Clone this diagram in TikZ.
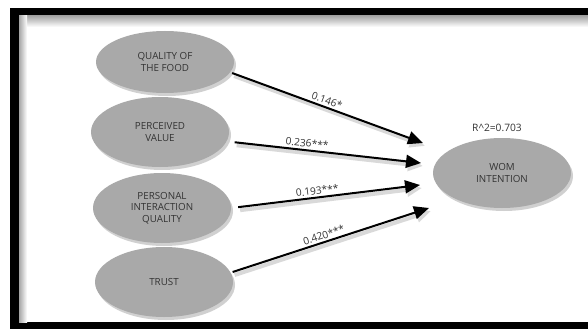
\documentclass[tikz,border=0pt]{standalone}
\usepackage{fontspec}
\setmainfont{Open Sans}
\usetikzlibrary{shapes.geometric,arrows.meta,shadows,positioning}
\definecolor{ellfill}{HTML}{A9A9A9}
\definecolor{txt}{HTML}{333333}
\tikzset{
  construct/.style={ellipse, fill=ellfill, inner sep=0pt, minimum width=138pt, minimum height=70pt,
    align=center, text=txt, font=\fontsize{9.8}{11.5}\selectfont,
    drop shadow={shadow xshift=2pt, shadow yshift=-3pt, opacity=0.3, fill=black!60}},
  path/.style={line width=2pt, -{Triangle[length=15pt,width=13pt]}, shorten <=2pt,
    preaction={draw=black!15, line width=4pt, transform canvas={xshift=2pt,yshift=-3pt}}},
  coef/.style={sloped, above, font=\fontsize{10.2}{11}\selectfont, text=txt, inner sep=2pt}
}
\begin{document}
\begin{tikzpicture}[x=1pt,y=-1pt]
\useasboundingbox (0,0) rectangle (588,329);
% frame
\fill[white] (0,0) rectangle (588,329);
\fill[black] (10,8) rectangle (588,329);
\fill[white] (19,16) rectangle (588,322);
\shade[top color=black!35, bottom color=white] (19,16) rectangle (588,27);
\shade[left color=black!35, right color=white] (19,16) rectangle (27,322);
% constructs
\node[construct, minimum height=62pt] (qf) at (165,62) {QUALITY OF\\THE FOOD};
\node[construct] (pv) at (160,132) {PERCEIVED\\VALUE};
\node[construct] (pi) at (162,208) {PERSONAL\\INTERACTION\\QUALITY};
\node[construct] (tr) at (164,282) {TRUST};
\node[construct] (wom) at (502,173) {WOM\\INTENTION};
\node[font=\fontsize{10.2}{11}\selectfont, text=txt] (r2) at (497,128) {R\^{}2=0.703};
% arrow ends
\coordinate (e1) at (423,143);
\coordinate (e2) at (421,163);
\coordinate (e3) at (420,185);
\coordinate (e4) at (429,208);
\draw[path] (qf.-9) -- node[coef, pos=0.49] {0.146*} (e1);
\draw[path, shorten <=8pt] (pv.-8) -- node[coef, pos=0.41] {0.236***} (e2);
\draw[path, shorten <=7pt] (pi.east) -- node[coef, pos=0.46] {0.193***} (e3);
\draw[path] (tr.8) -- node[coef, pos=0.48] {0.420***} (e4);
\end{tikzpicture}
\end{document}
